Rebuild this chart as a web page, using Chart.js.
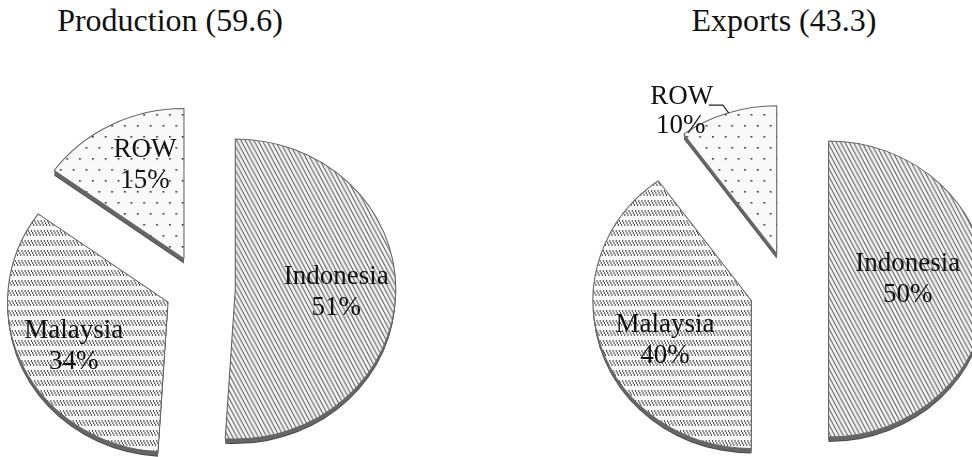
<!DOCTYPE html>
<html lang="en">
<head>
<meta charset="UTF-8">
<title>Production and Exports</title>
<style>
  body {
    margin: 0;
    width: 972px;
    height: 457px;
    position: relative;
    overflow: hidden;
    background: #fff;
    font-family: 'Liberation Serif', 'Times New Roman', serif;
  }
  .title {
    position: absolute;
    top: 2px;
    font-size: 32px;
    color: #111;
    white-space: nowrap;
    transform: translateX(-50%);
  }
  canvas { position: absolute; top: 0; }
</style>
</head>
<body>
<div class="title" id="prodTitle" style="left:170px"></div>
<div class="title" id="expTitle" style="left:784px"></div>
<canvas id="prodChart" width="486" height="457" style="left:0"></canvas>
<canvas id="expChart" width="486" height="457" style="left:486px"></canvas>

<script src="https://cdn.jsdelivr.net/npm/chart.js"></script>
<script>
// data
const countries = ['Indonesia', 'Malaysia', 'ROW'];
const productionShares = [51, 34, 15];
const exportShares = [50, 40, 10];
const productionTotal = 59.6;
const exportTotal = 43.3;

document.getElementById('prodTitle').textContent = 'Production (' + productionTotal + ')';
document.getElementById('expTitle').textContent = 'Exports (' + exportTotal + ')';

// fill patterns: fine diagonal hatch, rows of short dashes, dots
function makePattern(kind) {
    const c = document.createElement('canvas');
    const g = c.getContext('2d');
    if (kind === 'diag') {
        c.width = 4; c.height = 8;
        g.fillStyle = '#f4f4f4';
        g.fillRect(0, 0, 4, 8);
        g.strokeStyle = '#4a4a4a';
        g.lineWidth = 1;
        [-4, 0, 4].forEach(ox => {
            g.beginPath(); g.moveTo(ox, 0); g.lineTo(ox + 4, 8); g.stroke();
        });
    } else if (kind === 'dash') {
        c.width = 3; c.height = 10;
        g.fillStyle = '#fafafa';
        g.fillRect(0, 0, 3, 10);
        g.fillStyle = '#4c4c4c';
        // one short "\" stroke per tile, drawn pixel by pixel
        [[0, 0], [0, 1], [1, 2], [1, 3], [2, 4], [2, 5]].forEach(p => g.fillRect(p[0], p[1], 1, 1));
    } else {
        c.width = 12; c.height = 22;
        g.fillStyle = '#f9f9f9';
        g.fillRect(0, 0, 12, 22);
        g.fillStyle = '#333';
        g.fillRect(3, 4, 1.6, 1.6);
        g.fillRect(9, 15, 1.6, 1.6);
    }
    return g.createPattern(c, 'repeat');
}

const fills = [makePattern('diag'), makePattern('dash'), makePattern('dots')];

// exploded slices with a little depth, squeezed into an ellipse, plus labels
const piePlugin = {
    id: 'piePlugin',
    beforeDatasetsDraw(chart, args, opts) {
        const ctx = chart.ctx;
        const arcs = chart.getDatasetMeta(0).data;
        const cx = arcs[0].x;
        chart.$cx = cx;
        arcs.forEach(a => {
            const mid = (a.startAngle + a.endAngle) / 2;
            a.$ox = a.x; a.$oy = a.y;
            a.x += Math.cos(mid) * opts.distance;
            a.y += Math.sin(mid) * opts.distance;
        });
        ctx.save();
        ctx.translate(cx, 0);
        ctx.scale(opts.stretch, 1);
        ctx.translate(-cx, 0);
        // side of each slice
        for (let k = opts.depth; k >= 1; k--) {
            arcs.forEach(a => {
                ctx.beginPath();
                ctx.moveTo(a.x, a.y + k);
                ctx.arc(a.x, a.y + k, a.outerRadius, a.startAngle, a.endAngle);
                ctx.closePath();
                ctx.fillStyle = k === opts.depth ? '#4a4a4a' : '#666';
                ctx.fill();
            });
        }
    },
    afterDatasetsDraw(chart, args, opts) {
        const ctx = chart.ctx;
        ctx.restore();
        const cx = chart.$cx;
        const arcs = chart.getDatasetMeta(0).data;
        const values = chart.data.datasets[0].data;
        ctx.save();
        ctx.font = '27px "Liberation Serif", "Times New Roman", serif';
        ctx.fillStyle = '#111';
        ctx.textAlign = 'center';
        ctx.textBaseline = 'middle';
        arcs.forEach((a, i) => {
            const mid = (a.startAngle + a.endAngle) / 2;
            const name = chart.data.labels[i];
            const pct = values[i] + '%';
            if (opts.outside[i]) {
                const R = a.outerRadius;
                const ex = cx + (a.x - cx + Math.cos(mid) * R) * opts.stretch;
                const ey = a.y + Math.sin(mid) * R;
                ctx.strokeStyle = '#222';
                ctx.lineWidth = 1.2;
                ctx.beginPath();
                ctx.moveTo(ex + 1, ey);
                ctx.lineTo(ex - 5, ey - 8);
                ctx.lineTo(ex - 19, ey - 8);
                ctx.stroke();
                ctx.fillText(name, ex - 46, ey - 16);
                ctx.fillText(pct, ex - 47, ey + 13);
            } else {
                const r = a.outerRadius * opts.labelRadius[i];
                const sh = opts.labelShift[i];
                const lx = cx + (a.x - cx + Math.cos(mid) * r) * opts.stretch + sh[0];
                const ly = a.y + Math.sin(mid) * r + sh[1];
                ctx.fillText(name, lx, ly - 15);
                ctx.fillText(pct, lx, ly + 16);
            }
        });
        ctx.restore();
        arcs.forEach(a => { a.x = a.$ox; a.y = a.$oy; });
    }
};

function makePie(id, shares, pad, radius, pieOpts) {
    return new Chart(document.getElementById(id), {
        type: 'pie',
        data: {
            labels: countries,
            datasets: [{
                data: shares,
                backgroundColor: fills,
                borderColor: '#666',
                borderWidth: 1
            }]
        },
        options: {
            responsive: false,
            animation: false,
            events: [],
            radius: radius,
            layout: { padding: pad },
            plugins: {
                legend: { display: false },
                tooltip: { enabled: false },
                piePlugin: pieOpts
            }
        },
        plugins: [piePlugin]
    });
}

makePie('prodChart', productionShares, { left: 0, right: 86, top: 119, bottom: 0 }, 150, {
    distance: 33, depth: 5, stretch: 1.07,
    labelRadius: [0.63, 0.65, 0.7],
    labelShift: [[0, 0], [0, 2], [12, 0]],
    outside: [false, false, false]
});

makePie('expChart', exportShares, { left: 120, right: 0, top: 121, bottom: 0 }, 148, {
    distance: 37, depth: 5, stretch: 1.07,
    labelRadius: [0.5, 0.6, 0.6],
    labelShift: [[0, -10], [4, 12], [0, 0]],
    outside: [false, false, true]
});
</script>
</body>
</html>
